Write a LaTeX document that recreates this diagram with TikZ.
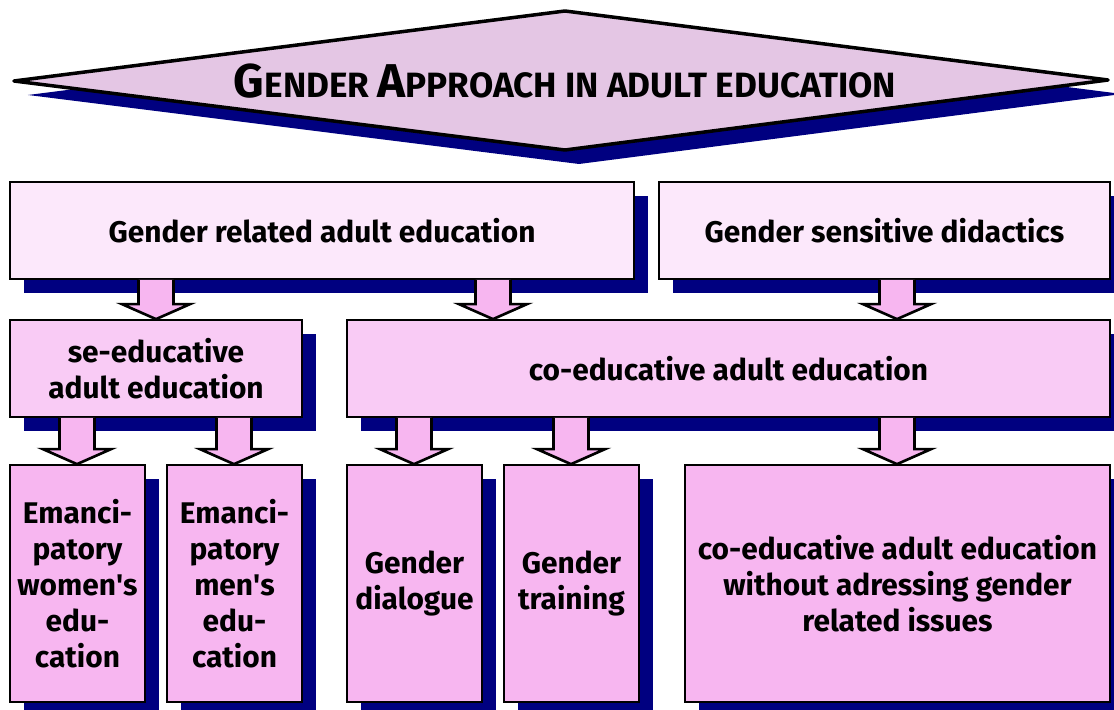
\documentclass[tikz,border=0pt]{standalone}
\usepackage{fontspec}
\setmainfont{Fira Sans}
\usetikzlibrary{calc,shadows}

\definecolor{shadowblue}{HTML}{000080}
\definecolor{upperpink}{HTML}{FCE8FB}
\definecolor{middlepink}{HTML}{F9CBF5}
\definecolor{lowerpink}{HTML}{F7B6F0}
\definecolor{titlepink}{HTML}{E4C6E4}

\newcommand{\tcap}[1]{{\fontsize{27}{30}\selectfont #1}}
\newcommand{\bigarrow}[3]{% source, target, x position
  \coordinate (ax) at (#3,0);
  \path (#1.south -| ax) coordinate (shaft) (#2.north -| ax) coordinate (tip);
  \draw[fatarrow] ($(shaft)+(-17.5,0)$) -- ($(tip)+(-17.5,-15)$) -- ($(tip)+(-34,-15)$) -- (tip)
    -- ($(tip)+(34,-15)$) -- ($(tip)+(17.5,-15)$) -- ($(shaft)+(17.5,0)$);}

\begin{document}
\begin{tikzpicture}[x=0.02cm, y=-0.02cm,
    blockshadow/.style={drop shadow={shadow xshift=0.28cm, shadow yshift=-0.28cm,
        fill=shadowblue, opacity=1}},
    box/.style={draw=black, line width=1pt, align=center, blockshadow,
        font=\bfseries\fontsize{17}{20.5}\selectfont},
    upperbox/.style={box, fill=upperpink, minimum height=1.94cm},
    middlebox/.style={box, fill=middlepink, minimum height=1.94cm},
    lowerbox/.style={box, fill=lowerpink, minimum height=4.74cm},
    fatarrow/.style={draw=black, line width=1.5pt, fill=lowerpink, line join=miter}]
  \useasboundingbox (0,0) rectangle (1114,709);

  % title
  \coordinate (tl) at (14,81);
  \coordinate (tt) at (565,11);
  \coordinate (tr) at (1108,80);
  \coordinate (tb) at (565,150);
  \draw[line width=2pt, line join=round, fill=titlepink, blockshadow] (tl) -- (tt) -- (tr) -- (tb) -- cycle;
  \node[font=\bfseries\fontsize{20}{24}\selectfont] (title) at (565,81)
      {\tcap{G}ENDER \tcap{A}PPROACH IN ADULT EDUCATION};

  % first row
  \node[upperbox, minimum width=12.48cm] (related) at (322,230.5) {Gender related adult education};
  \node[upperbox, minimum width=9.02cm] (didactics) at (884.5,230.5) {Gender sensitive didactics};

  % second row
  \node[middlebox, minimum width=5.84cm] (seedu) at (156,368.5) {se-educative\\adult education};
  \node[middlebox, minimum width=15.26cm] (coedu) at (728.5,368.5) {co-educative adult education};

  % third row
  \node[lowerbox, minimum width=2.7cm] (women) at (77.5,583.5)
      {Emanci-\\patory\\women\textquotesingle s\\edu-\\cation};
  \node[lowerbox, minimum width=2.7cm] (men) at (234.5,583.5)
      {Emanci-\\patory\\men\textquotesingle s\\edu-\\cation};
  \node[lowerbox, minimum width=2.7cm] (dialogue) at (414.5,583.5) {Gender\\dialogue};
  \node[lowerbox, minimum width=2.7cm] (training) at (571.5,583.5) {Gender\\training};
  \node[lowerbox, minimum width=8.5cm] (without) at (897.5,583.5)
      {co-educative adult education\\without adressing gender\\related issues};

  % arrows
  \bigarrow{related}{seedu}{156}
  \bigarrow{related}{coedu}{493}
  \bigarrow{didactics}{coedu}{897}
  \bigarrow{seedu}{women}{77}
  \bigarrow{seedu}{men}{234}
  \bigarrow{coedu}{dialogue}{414}
  \bigarrow{coedu}{training}{571}
  \bigarrow{coedu}{without}{897}
\end{tikzpicture}
\end{document}
